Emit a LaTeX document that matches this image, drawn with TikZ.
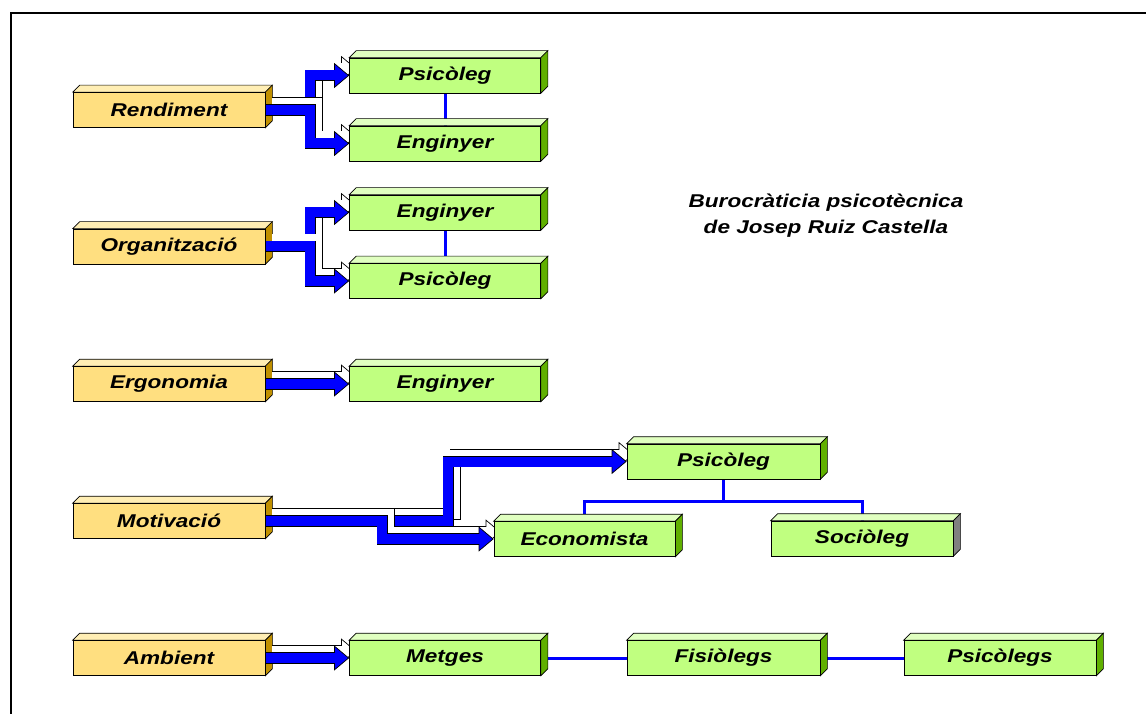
\documentclass[tikz,border=0pt]{standalone}
\usepackage{fontspec}
\usepackage{tikz}
\usetikzlibrary{arrows.meta,calc}
\newfontfamily\boxfont[FakeStretch=1.22]{Liberation Sans}
\definecolor{bx_yellow}{RGB}{255, 223, 128}
\definecolor{bx_yellow_top}{RGB}{255, 238, 180}
\definecolor{bx_yellow_side}{RGB}{192, 144, 0}
\definecolor{bx_green}{RGB}{192, 255, 128}
\definecolor{bx_green_top}{RGB}{224, 255, 192}
\definecolor{bx_green_side}{RGB}{96, 176, 0}
\definecolor{bx_grey_side}{RGB}{128, 128, 128}
\definecolor{bx_blue}{RGB}{0, 0, 255}
\pgfdeclarelayer{lines}
\pgfdeclarelayer{faces}
\pgfdeclarelayer{flows}
\pgfsetlayers{lines,faces,flows,main}
\tikzstyle{yb}=[rectangle,fill=bx_yellow,draw=black,line width=0.7pt,inner sep=0pt,
  minimum width=192pt,minimum height=35pt,
  font=\boxfont\bfseries\itshape\fontsize{18.5}{20}\selectfont]
\tikzstyle{gb}=[yb,fill=bx_green,minimum width=191pt]
\tikzstyle{title}=[align=center,font=\boxfont\bfseries\itshape\fontsize{18.5}{26}\selectfont]
\tikzstyle{link}=[draw=bx_blue,line width=3pt]
\tikzstyle{lift}=[transform canvas={shift={(7pt,7pt)}}]
\tikzstyle{flowfront}=[line width=10pt,draw=bx_blue,line join=miter,
  -{Triangle[length=15pt,width=25pt,color=black,fill=bx_blue,line width=0.7pt]},
  preaction={draw=black,line width=11.4pt,arrows=-,shorten >=14pt},
  postaction={draw=bx_blue,line width=10pt,arrows=-,shorten >=13pt}]
\tikzstyle{flowback}=[line width=10pt,draw=white,line join=miter,
  -{Triangle[length=15pt,width=25pt,color=black,fill=white,line width=0.7pt]},
  preaction={draw=black,line width=11.4pt,arrows=-,shorten >=14pt},
  postaction={draw=white,line width=10pt,arrows=-,shorten >=13pt}]

\begin{document}
\begin{tikzpicture}[x=1pt,y=-1pt]
            \useasboundingbox (0, 0) rectangle (1146, 714);
            \draw [line width=2pt] (11, 714) -- (11, 13) -- (1146, 13);
            \node [style=yb] (0) at (169, 110) {Rendiment};
            \node [style=gb] (1) at (445, 75.5) {Psicòleg};
            \node [style=gb] (2) at (445, 143.5) {Enginyer};
            \node [style=yb] (3) at (169, 246.5) {Organització};
            \node [style=gb] (4) at (445, 212.5) {Enginyer};
            \node [style=gb] (5) at (445, 281) {Psicòleg};
            \node [style=yb] (6) at (169, 384) {Ergonomia};
            \node [style=gb] (7) at (445, 384) {Enginyer};
            \node [style=yb] (8) at (169, 521) {Motivació};
            \node [style=gb, minimum width=193pt] (9) at (723.5, 461.5) {Psicòleg};
            \node [style=gb, minimum width=181pt] (10) at (584.5, 539) {Economista};
            \node [style=gb, minimum width=182pt] (11) at (862, 538.5) {Sociòleg};
            \node [style=yb] (12) at (169, 658) {Ambient};
            \node [style=gb] (13) at (445, 658) {Metges};
            \node [style=gb, minimum width=193pt] (14) at (723.5, 658) {Fisiòlegs};
            \node [style=gb, minimum width=192pt] (15) at (1000, 658) {Psicòlegs};
            \node [style=title] (16) at (826, 216) {Burocràticia psicotècnica\\de Josep Ruiz Castella};
            \begin{pgfonlayer}{lines}
            \draw [style=link] (1.south) to (2.north);
            \draw [style=link] (4.south) to (5.north);
            \draw [style=link] (9.south) -- ++(0, 22) -| (10.north);
            \draw [style=link] (9.south) ++(0, 22) -| (11.north);
            \draw [style=link] (13.east) to (14.west);
            \draw [style=link] (14.east) to (15.west);
            \end{pgfonlayer}
            \begin{pgfonlayer}{faces}
            \foreach \n/\t/\s in {0/bx_yellow_top/bx_yellow_side, 3/bx_yellow_top/bx_yellow_side,
                6/bx_yellow_top/bx_yellow_side, 8/bx_yellow_top/bx_yellow_side, 12/bx_yellow_top/bx_yellow_side,
                1/bx_green_top/bx_green_side, 2/bx_green_top/bx_green_side, 4/bx_green_top/bx_green_side,
                5/bx_green_top/bx_green_side, 7/bx_green_top/bx_green_side, 9/bx_green_top/bx_green_side,
                10/bx_green_top/bx_green_side, 11/bx_green_top/bx_grey_side, 13/bx_green_top/bx_green_side,
                14/bx_green_top/bx_green_side, 15/bx_green_top/bx_green_side} {
              \draw [fill=\t, line width=0.7pt] (\n.north west) -- ++(7pt, 7pt)
                -- ($(\n.north east)+(7pt, 7pt)$) -- (\n.north east) -- cycle;
              \draw [fill=\s, line width=0.7pt] (\n.north east) -- ++(7pt, 7pt)
                -- ($(\n.south east)+(7pt, 7pt)$) -- (\n.south east) -- cycle;
            }
            \end{pgfonlayer}
            \begin{pgfonlayer}{flows}
            \begin{scope}[style=lift] \draw [style=flowback] (0.east) -- ++(45, 0) |- (1.west); \end{scope}
            \draw [style=flowfront] (0.east) -- ++(45, 0) |- (1.west);
            \begin{scope}[style=lift] \draw [style=flowback] (0.east) -- ++(45, 0) |- (2.west); \end{scope}
            \draw [style=flowfront] (0.east) -- ++(45, 0) |- (2.west);
            \begin{scope}[style=lift] \draw [style=flowback] (3.east) -- ++(45, 0) |- (4.west); \end{scope}
            \draw [style=flowfront] (3.east) -- ++(45, 0) |- (4.west);
            \begin{scope}[style=lift] \draw [style=flowback] (3.east) -- ++(45, 0) |- (5.west); \end{scope}
            \draw [style=flowfront] (3.east) -- ++(45, 0) |- (5.west);
            \begin{scope}[style=lift] \draw [style=flowback] (6.east) to (7.west); \end{scope}
            \draw [style=flowfront] (6.east) to (7.west);
            \begin{scope}[style=lift] \draw [style=flowback] (8.east) -- ++(183, 0) |- (9.west); \end{scope}
            \draw [style=flowfront] (8.east) -- ++(183, 0) |- (9.west);
            \begin{scope}[style=lift] \draw [style=flowback] (8.east) -- ++(117, 0) |- (10.west); \end{scope}
            \draw [style=flowfront] (8.east) -- ++(117, 0) |- (10.west);
            \begin{scope}[style=lift] \draw [style=flowback] (12.east) to (13.west); \end{scope}
            \draw [style=flowfront] (12.east) to (13.west);
            \end{pgfonlayer}
\end{tikzpicture}
\end{document}
